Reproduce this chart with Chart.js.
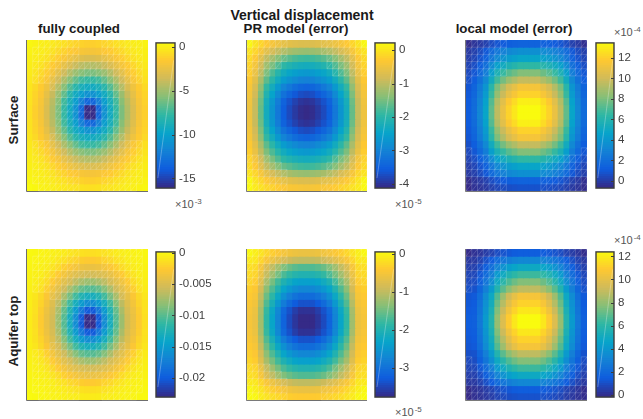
<!DOCTYPE html>
<html>
<head>
<meta charset="utf-8">
<title>Vertical displacement</title>
<script src="https://cdn.jsdelivr.net/npm/chart.js@4/dist/chart.umd.min.js"></script>
<style>
  html, body { margin: 0; padding: 0; background: #fff; }
  #page { position: relative; width: 643px; height: 419px; overflow: hidden; font-family: "Liberation Sans", Arial, sans-serif; }
  canvas { position: absolute; }
  .label { position: absolute; font-weight: bold; font-size: 13.3px; line-height: 14px; color: #1a1a1a; white-space: nowrap; transform: translateX(-50%); }
  .main { font-size: 14px; }
  .side { position: absolute; font-weight: bold; font-size: 13.3px; line-height: 14px; color: #222; white-space: nowrap; transform: translate(-50%, -50%) rotate(-90deg); }
  .exp { position: absolute; font-size: 11px; line-height: 12px; color: #555; white-space: nowrap; }
  .exp sup { font-size: 8px; position: relative; top: -2px; vertical-align: top; margin-left: 1px; }
</style>
</head>
<body>
<div id="page">
  <div class="label main" style="left:302px;top:8px">Vertical displacement</div>
  <div class="label" style="left:296px;top:22px">PR model (error)</div>
  <div class="label" style="left:79px;top:22px">fully coupled</div>
  <div class="label" style="left:514px;top:22px">local model (error)</div>
  <div class="side" style="left:14px;top:120px">Surface</div>
  <div class="side" style="left:14px;top:331px">Aquifer top</div>
  <div class="exp" style="left:175px;top:198px">×10<sup>-3</sup></div>
  <div class="exp" style="left:395px;top:198px">×10<sup>-5</sup></div>
  <div class="exp" style="left:614px;top:26px">×10<sup>-4</sup></div>
  <div class="exp" style="left:395px;top:406px">×10<sup>-5</sup></div>
  <div class="exp" style="left:614px;top:234px">×10<sup>-4</sup></div>
</div>
<script>
// cell values, one row per line, top row first

// fully coupled, surface (x 1e-3)
const coupledSurface = [
  [.3,.15,0,-.1,-.25,-.45,-.6,-.9,-1.1,-1.2,-1.3,-1.3,-1.2,-1.1,-.9,-.6,-.45,-.25,-.1,0,.15],
  [.15,0,-.1,-.3,-.55,-.9,-1.2,-1.5,-1.7,-1.9,-2,-2,-1.9,-1.7,-1.5,-1.2,-.9,-.55,-.3,-.1,0],
  [.05,-.1,-.3,-.55,-1,-1.4,-1.8,-2.3,-2.7,-3,-3.2,-3.2,-3,-2.7,-2.3,-1.8,-1.4,-1,-.55,-.3,-.1],
  [-.05,-.25,-.55,-1,-1.5,-2,-2.7,-3.3,-3.9,-4.3,-4.5,-4.5,-4.3,-3.9,-3.3,-2.7,-2,-1.5,-1,-.55,-.25],
  [-.15,-.45,-.9,-1.4,-2,-2.9,-3.7,-4.5,-5.2,-5.7,-6,-6,-5.7,-5.2,-4.5,-3.7,-2.9,-2,-1.4,-.9,-.45],
  [-.3,-.6,-1.2,-1.8,-2.7,-3.7,-4.7,-5.7,-6.6,-7.4,-7.7,-7.7,-7.4,-6.6,-5.7,-4.7,-3.7,-2.7,-1.8,-1.2,-.6],
  [-.4,-.9,-1.5,-2.3,-3.3,-4.5,-5.7,-7,-8.1,-8.9,-9.3,-9.3,-8.9,-8.1,-7,-5.7,-4.5,-3.3,-2.3,-1.5,-.9],
  [-.5,-1.1,-1.7,-2.7,-3.9,-5.2,-6.6,-8.1,-9.3,-10.3,-11,-11,-10.3,-9.3,-8.1,-6.6,-5.2,-3.9,-2.7,-1.7,-1.1],
  [-.55,-1.2,-1.9,-3,-4.3,-5.7,-7.4,-8.9,-10.3,-12,-13.4,-13.4,-12,-10.3,-8.9,-7.4,-5.7,-4.3,-3,-1.9,-1.2],
  [-.6,-1.3,-2,-3.2,-4.5,-6,-7.7,-9.3,-11,-13.4,-16.1,-16.1,-13.4,-11,-9.3,-7.7,-6,-4.5,-3.2,-2,-1.3],
  [-.6,-1.3,-2,-3.2,-4.5,-6,-7.7,-9.3,-11,-13.4,-16.1,-16.1,-13.4,-11,-9.3,-7.7,-6,-4.5,-3.2,-2,-1.3],
  [-.55,-1.2,-1.9,-3,-4.3,-5.7,-7.4,-8.9,-10.3,-12,-13.4,-13.4,-12,-10.3,-8.9,-7.4,-5.7,-4.3,-3,-1.9,-1.2],
  [-.5,-1.1,-1.7,-2.7,-3.9,-5.2,-6.6,-8.1,-9.3,-10.3,-11,-11,-10.3,-9.3,-8.1,-6.6,-5.2,-3.9,-2.7,-1.7,-1.1],
  [-.4,-.9,-1.5,-2.3,-3.3,-4.5,-5.7,-7,-8.1,-8.9,-9.3,-9.3,-8.9,-8.1,-7,-5.7,-4.5,-3.3,-2.3,-1.5,-.9],
  [-.3,-.6,-1.2,-1.8,-2.7,-3.7,-4.7,-5.7,-6.6,-7.4,-7.7,-7.7,-7.4,-6.6,-5.7,-4.7,-3.7,-2.7,-1.8,-1.2,-.6],
  [-.15,-.45,-.9,-1.4,-2,-2.9,-3.7,-4.5,-5.2,-5.7,-6,-6,-5.7,-5.2,-4.5,-3.7,-2.9,-2,-1.4,-.9,-.45],
  [-.05,-.25,-.55,-1,-1.5,-2,-2.7,-3.3,-3.9,-4.3,-4.5,-4.5,-4.3,-3.9,-3.3,-2.7,-2,-1.5,-1,-.55,-.25],
  [.05,-.1,-.3,-.55,-1,-1.4,-1.8,-2.3,-2.7,-3,-3.2,-3.2,-3,-2.7,-2.3,-1.8,-1.4,-1,-.55,-.3,-.1],
  [.15,0,-.1,-.3,-.55,-.9,-1.2,-1.5,-1.7,-1.9,-2,-2,-1.9,-1.7,-1.5,-1.2,-.9,-.55,-.3,-.1,0],
  [.3,.15,0,-.1,-.25,-.45,-.6,-.9,-1.1,-1.2,-1.3,-1.3,-1.2,-1.1,-.9,-.6,-.45,-.25,-.1,0,.15],
  [.48,.3,.15,.05,-.05,-.15,-.3,-.4,-.5,-.55,-.6,-.6,-.55,-.5,-.4,-.3,-.15,-.05,.05,.15,.3],
];

// PR model error, surface (x 1e-5)
const prSurface = [
  [.18,-.04,-.18,-.34,-.43,-.53,-.62,-.66,-.7,-.73,-.74,-.73,-.7,-.66,-.62,-.53,-.43,-.34,-.18,-.04,.18],
  [-.04,-.19,-.42,-.66,-.81,-.97,-1.1,-1.18,-1.24,-1.28,-1.3,-1.28,-1.24,-1.18,-1.1,-.97,-.81,-.66,-.42,-.19,-.04],
  [-.14,-.34,-.66,-.99,-1.2,-1.41,-1.6,-1.7,-1.79,-1.85,-1.87,-1.85,-1.79,-1.7,-1.6,-1.41,-1.2,-.99,-.66,-.34,-.14],
  [-.21,-.46,-.84,-1.24,-1.49,-1.75,-1.97,-2.1,-2.2,-2.27,-2.3,-2.27,-2.2,-2.1,-1.97,-1.75,-1.49,-1.24,-.84,-.46,-.21],
  [-.27,-.57,-1,-1.47,-1.76,-2.05,-2.31,-2.46,-2.57,-2.66,-2.69,-2.66,-2.57,-2.46,-2.31,-2.05,-1.76,-1.47,-1,-.57,-.27],
  [-.33,-.66,-1.15,-1.67,-2,-2.32,-2.62,-2.78,-2.91,-3.01,-3.04,-3.01,-2.91,-2.78,-2.62,-2.32,-2,-1.67,-1.15,-.66,-.33],
  [-.41,-.78,-1.33,-1.93,-2.3,-2.67,-3,-3.18,-3.33,-3.44,-3.48,-3.44,-3.33,-3.18,-3,-2.67,-2.3,-1.93,-1.33,-.78,-.41],
  [-.46,-.86,-1.46,-2.1,-2.5,-2.9,-3.26,-3.46,-3.62,-3.74,-3.78,-3.74,-3.62,-3.46,-3.26,-2.9,-2.5,-2.1,-1.46,-.86,-.46],
  [-.5,-.93,-1.57,-2.25,-2.68,-3.1,-3.49,-3.7,-3.87,-4,-4.04,-4,-3.87,-3.7,-3.49,-3.1,-2.68,-2.25,-1.57,-.93,-.5],
  [-.52,-.95,-1.61,-2.3,-2.74,-3.17,-3.56,-3.78,-3.96,-4.09,-4.13,-4.09,-3.96,-3.78,-3.56,-3.17,-2.74,-2.3,-1.61,-.95,-.52],
  [-.52,-.95,-1.61,-2.3,-2.74,-3.17,-3.56,-3.78,-3.96,-4.09,-4.13,-4.09,-3.96,-3.78,-3.56,-3.17,-2.74,-2.3,-1.61,-.95,-.52],
  [-.5,-.93,-1.57,-2.25,-2.68,-3.1,-3.49,-3.7,-3.87,-4,-4.04,-4,-3.87,-3.7,-3.49,-3.1,-2.68,-2.25,-1.57,-.93,-.5],
  [-.46,-.86,-1.46,-2.1,-2.5,-2.9,-3.26,-3.46,-3.62,-3.74,-3.78,-3.74,-3.62,-3.46,-3.26,-2.9,-2.5,-2.1,-1.46,-.86,-.46],
  [-.41,-.78,-1.33,-1.93,-2.3,-2.67,-3,-3.18,-3.33,-3.44,-3.48,-3.44,-3.33,-3.18,-3,-2.67,-2.3,-1.93,-1.33,-.78,-.41],
  [-.33,-.66,-1.15,-1.67,-2,-2.32,-2.62,-2.78,-2.91,-3.01,-3.04,-3.01,-2.91,-2.78,-2.62,-2.32,-2,-1.67,-1.15,-.66,-.33],
  [-.27,-.57,-1,-1.47,-1.76,-2.05,-2.31,-2.46,-2.57,-2.66,-2.69,-2.66,-2.57,-2.46,-2.31,-2.05,-1.76,-1.47,-1,-.57,-.27],
  [-.21,-.46,-.84,-1.24,-1.49,-1.75,-1.97,-2.1,-2.2,-2.27,-2.3,-2.27,-2.2,-2.1,-1.97,-1.75,-1.49,-1.24,-.84,-.46,-.21],
  [-.14,-.34,-.66,-.99,-1.2,-1.41,-1.6,-1.7,-1.79,-1.85,-1.87,-1.85,-1.79,-1.7,-1.6,-1.41,-1.2,-.99,-.66,-.34,-.14],
  [-.04,-.19,-.42,-.66,-.81,-.97,-1.1,-1.18,-1.24,-1.28,-1.3,-1.28,-1.24,-1.18,-1.1,-.97,-.81,-.66,-.42,-.19,-.04],
  [.18,-.04,-.18,-.34,-.43,-.53,-.62,-.66,-.7,-.73,-.74,-.73,-.7,-.66,-.62,-.53,-.43,-.34,-.18,-.04,.18],
  [.2,.04,-.05,-.16,-.22,-.29,-.35,-.38,-.4,-.42,-.43,-.42,-.4,-.38,-.35,-.29,-.22,-.16,-.05,.04,.2],
];

// local model error, surface (x 1e-4)
const localSurface = [
  [-.6,-.31,-.12,.12,.52,.84,1.05,1.22,1.32,1.43,1.43,1.43,1.43,1.32,1.22,1.05,.84,.52,.12,-.12,-.5],
  [-.14,.08,.46,.93,1.73,2.37,2.8,3.14,3.35,3.56,3.56,3.56,3.56,3.35,3.14,2.8,2.37,1.73,.93,.46,.08],
  [.01,.28,.76,1.35,2.38,3.18,3.72,4.15,4.42,4.69,4.69,4.69,4.69,4.42,4.15,3.72,3.18,2.38,1.35,.76,.28],
  [.23,.58,1.22,2,3.35,4.41,5.12,5.68,6.04,6.39,6.39,6.39,6.39,6.04,5.68,5.12,4.41,3.35,2,1.22,.58],
  [.45,.89,1.68,2.64,4.31,5.62,6.5,7.2,7.64,8.08,8.08,8.08,8.08,7.64,7.2,6.5,5.62,4.31,2.64,1.68,.89],
  [.65,1.17,2.1,3.24,5.2,6.75,7.78,8.61,9.12,9.64,9.64,9.64,9.64,9.12,8.61,7.78,6.75,5.2,3.24,2.1,1.17],
  [.87,1.48,2.56,3.88,6.17,7.97,9.17,10.14,10.74,11.34,11.34,11.34,11.34,10.74,10.14,9.17,7.97,6.17,3.88,2.56,1.48],
  [.97,1.6,2.75,4.15,6.57,8.48,9.76,10.78,11.41,12.05,12.05,12.05,12.05,11.41,10.78,9.76,8.48,6.57,4.15,2.75,1.6],
  [1.09,1.78,3.02,4.53,7.14,9.2,10.57,11.67,12.35,13.04,13.04,13.04,13.04,12.35,11.67,10.57,9.2,7.14,4.53,3.02,1.78],
  [1.15,1.86,3.13,4.69,7.38,9.5,10.91,12.05,12.75,13.46,13.46,13.46,13.46,12.75,12.05,10.91,9.5,7.38,4.69,3.13,1.86],
  [1.15,1.86,3.13,4.69,7.38,9.5,10.91,12.05,12.75,13.46,13.46,13.46,13.46,12.75,12.05,10.91,9.5,7.38,4.69,3.13,1.86],
  [1.09,1.78,3.02,4.53,7.14,9.2,10.57,11.67,12.35,13.04,13.04,13.04,13.04,12.35,11.67,10.57,9.2,7.14,4.53,3.02,1.78],
  [.97,1.6,2.75,4.15,6.57,8.48,9.76,10.78,11.41,12.05,12.05,12.05,12.05,11.41,10.78,9.76,8.48,6.57,4.15,2.75,1.6],
  [.87,1.48,2.56,3.88,6.17,7.97,9.17,10.14,10.74,11.34,11.34,11.34,11.34,10.74,10.14,9.17,7.97,6.17,3.88,2.56,1.48],
  [.65,1.17,2.1,3.24,5.2,6.75,7.78,8.61,9.12,9.64,9.64,9.64,9.64,9.12,8.61,7.78,6.75,5.2,3.24,2.1,1.17],
  [.45,.89,1.68,2.64,4.31,5.62,6.5,7.2,7.64,8.08,8.08,8.08,8.08,7.64,7.2,6.5,5.62,4.31,2.64,1.68,.89],
  [.23,.58,1.22,2,3.35,4.41,5.12,5.68,6.04,6.39,6.39,6.39,6.39,6.04,5.68,5.12,4.41,3.35,2,1.22,.58],
  [.01,.28,.76,1.35,2.38,3.18,3.72,4.15,4.42,4.69,4.69,4.69,4.69,4.42,4.15,3.72,3.18,2.38,1.35,.76,.28],
  [-.14,.08,.46,.93,1.73,2.37,2.8,3.14,3.35,3.56,3.56,3.56,3.56,3.35,3.14,2.8,2.37,1.73,.93,.46,.08],
  [-.6,-.31,-.12,.12,.52,.84,1.05,1.22,1.32,1.43,1.43,1.43,1.43,1.32,1.22,1.05,.84,.52,.12,-.12,-.5],
  [-.69,-.43,-.31,-.15,.12,.33,.47,.59,.66,.73,.73,.73,.73,.66,.59,.47,.33,.12,-.15,-.31,-.6],
];

// fully coupled, aquifer top (x 1e-3)
const coupledAquifer = [
  [.1,-.05,-.15,-.3,-.4,-.55,-.7,-1,-1.2,-1.3,-1.4,-1.4,-1.3,-1.2,-1,-.7,-.55,-.4,-.3,-.15,-.05],
  [-.05,-.15,-.3,-.45,-.6,-1,-1.3,-1.8,-2.1,-2.4,-2.6,-2.6,-2.4,-2.1,-1.8,-1.3,-1,-.6,-.45,-.3,-.15],
  [-.15,-.3,-.45,-.65,-1.1,-1.6,-2.3,-2.9,-3.4,-3.8,-4,-4,-3.8,-3.4,-2.9,-2.3,-1.6,-1.1,-.65,-.45,-.3],
  [-.25,-.4,-.6,-1.1,-1.8,-2.6,-3.4,-4.2,-4.8,-5.2,-5.4,-5.4,-5.2,-4.8,-4.2,-3.4,-2.6,-1.8,-1.1,-.6,-.4],
  [-.3,-.55,-1,-1.6,-2.6,-3.6,-4.6,-5.4,-6.4,-7.2,-7.7,-7.7,-7.2,-6.4,-5.4,-4.6,-3.6,-2.6,-1.6,-1,-.55],
  [-.45,-.7,-1.3,-2.3,-3.4,-4.6,-5.7,-7.2,-8.6,-9.7,-10.2,-10.2,-9.7,-8.6,-7.2,-5.7,-4.6,-3.4,-2.3,-1.3,-.7],
  [-.55,-1,-1.8,-2.9,-4.2,-5.4,-7.2,-9.1,-10.9,-12.4,-13.2,-13.2,-12.4,-10.9,-9.1,-7.2,-5.4,-4.2,-2.9,-1.8,-1],
  [-.6,-1.2,-2.1,-3.4,-4.8,-6.4,-8.6,-10.9,-13.2,-15.2,-16.4,-16.4,-15.2,-13.2,-10.9,-8.6,-6.4,-4.8,-3.4,-2.1,-1.2],
  [-.65,-1.3,-2.4,-3.8,-5.2,-7.2,-9.7,-12.4,-15.2,-18,-20.3,-20.3,-18,-15.2,-12.4,-9.7,-7.2,-5.2,-3.8,-2.4,-1.3],
  [-.7,-1.4,-2.6,-4,-5.4,-7.7,-10.2,-13.2,-16.4,-20.3,-23.1,-23.1,-20.3,-16.4,-13.2,-10.2,-7.7,-5.4,-4,-2.6,-1.4],
  [-.7,-1.4,-2.6,-4,-5.4,-7.7,-10.2,-13.2,-16.4,-20.3,-23.1,-23.1,-20.3,-16.4,-13.2,-10.2,-7.7,-5.4,-4,-2.6,-1.4],
  [-.65,-1.3,-2.4,-3.8,-5.2,-7.2,-9.7,-12.4,-15.2,-18,-20.3,-20.3,-18,-15.2,-12.4,-9.7,-7.2,-5.2,-3.8,-2.4,-1.3],
  [-.6,-1.2,-2.1,-3.4,-4.8,-6.4,-8.6,-10.9,-13.2,-15.2,-16.4,-16.4,-15.2,-13.2,-10.9,-8.6,-6.4,-4.8,-3.4,-2.1,-1.2],
  [-.55,-1,-1.8,-2.9,-4.2,-5.4,-7.2,-9.1,-10.9,-12.4,-13.2,-13.2,-12.4,-10.9,-9.1,-7.2,-5.4,-4.2,-2.9,-1.8,-1],
  [-.45,-.7,-1.3,-2.3,-3.4,-4.6,-5.7,-7.2,-8.6,-9.7,-10.2,-10.2,-9.7,-8.6,-7.2,-5.7,-4.6,-3.4,-2.3,-1.3,-.7],
  [-.3,-.55,-1,-1.6,-2.6,-3.6,-4.6,-5.4,-6.4,-7.2,-7.7,-7.7,-7.2,-6.4,-5.4,-4.6,-3.6,-2.6,-1.6,-1,-.55],
  [-.25,-.4,-.6,-1.1,-1.8,-2.6,-3.4,-4.2,-4.8,-5.2,-5.4,-5.4,-5.2,-4.8,-4.2,-3.4,-2.6,-1.8,-1.1,-.6,-.4],
  [-.15,-.3,-.45,-.65,-1.1,-1.6,-2.3,-2.9,-3.4,-3.8,-4,-4,-3.8,-3.4,-2.9,-2.3,-1.6,-1.1,-.65,-.45,-.3],
  [-.05,-.15,-.3,-.45,-.6,-1,-1.3,-1.8,-2.1,-2.4,-2.6,-2.6,-2.4,-2.1,-1.8,-1.3,-1,-.6,-.45,-.3,-.15],
  [.1,-.05,-.15,-.3,-.4,-.55,-.7,-1,-1.2,-1.3,-1.4,-1.4,-1.3,-1.2,-1,-.7,-.55,-.4,-.3,-.15,-.05],
  [.2,.1,-.05,-.15,-.25,-.3,-.45,-.55,-.6,-.65,-.7,-.7,-.65,-.6,-.55,-.45,-.3,-.25,-.15,-.05,.1],
];

// PR model error, aquifer top (x 1e-5)
const prAquifer = [
  [.03,-.06,-.17,-.29,-.37,-.45,-.53,-.57,-.61,-.63,-.63,-.63,-.61,-.57,-.53,-.45,-.37,-.29,-.17,-.06,.03],
  [-.1,-.13,-.3,-.48,-.61,-.74,-.86,-.93,-.99,-1.02,-1.02,-1.02,-.99,-.93,-.86,-.74,-.61,-.48,-.3,-.13,-.1],
  [-.2,-.25,-.51,-.81,-1.01,-1.22,-1.41,-1.53,-1.62,-1.67,-1.67,-1.67,-1.62,-1.53,-1.41,-1.22,-1.01,-.81,-.51,-.25,-.2],
  [-.25,-.31,-.62,-.98,-1.22,-1.47,-1.7,-1.84,-1.95,-2.01,-2.01,-2.01,-1.95,-1.84,-1.7,-1.47,-1.22,-.98,-.62,-.31,-.25],
  [-.31,-.38,-.75,-1.17,-1.47,-1.76,-2.03,-2.2,-2.33,-2.4,-2.4,-2.4,-2.33,-2.2,-2.03,-1.76,-1.47,-1.17,-.75,-.38,-.31],
  [-.36,-.44,-.86,-1.34,-1.68,-2.01,-2.32,-2.52,-2.66,-2.74,-2.74,-2.74,-2.66,-2.52,-2.32,-2.01,-1.68,-1.34,-.86,-.44,-.36],
  [-.41,-.51,-.98,-1.52,-1.89,-2.27,-2.62,-2.84,-3,-3.09,-3.09,-3.09,-3,-2.84,-2.62,-2.27,-1.89,-1.52,-.98,-.51,-.41],
  [-.46,-.56,-1.08,-1.67,-2.09,-2.5,-2.88,-3.12,-3.3,-3.4,-3.4,-3.4,-3.3,-3.12,-2.88,-2.5,-2.09,-1.67,-1.08,-.56,-.46],
  [-.5,-.62,-1.18,-1.82,-2.27,-2.72,-3.14,-3.4,-3.59,-3.7,-3.7,-3.7,-3.59,-3.4,-3.14,-2.72,-2.27,-1.82,-1.18,-.62,-.5],
  [-.52,-.63,-1.21,-1.86,-2.32,-2.78,-3.2,-3.47,-3.66,-3.78,-3.78,-3.78,-3.66,-3.47,-3.2,-2.78,-2.32,-1.86,-1.21,-.63,-.52],
  [-.52,-.63,-1.21,-1.86,-2.32,-2.78,-3.2,-3.47,-3.66,-3.78,-3.78,-3.78,-3.66,-3.47,-3.2,-2.78,-2.32,-1.86,-1.21,-.63,-.52],
  [-.5,-.62,-1.18,-1.82,-2.27,-2.72,-3.14,-3.4,-3.59,-3.7,-3.7,-3.7,-3.59,-3.4,-3.14,-2.72,-2.27,-1.82,-1.18,-.62,-.5],
  [-.46,-.56,-1.08,-1.67,-2.09,-2.5,-2.88,-3.12,-3.3,-3.4,-3.4,-3.4,-3.3,-3.12,-2.88,-2.5,-2.09,-1.67,-1.08,-.56,-.46],
  [-.41,-.51,-.98,-1.52,-1.89,-2.27,-2.62,-2.84,-3,-3.09,-3.09,-3.09,-3,-2.84,-2.62,-2.27,-1.89,-1.52,-.98,-.51,-.41],
  [-.36,-.44,-.86,-1.34,-1.68,-2.01,-2.32,-2.52,-2.66,-2.74,-2.74,-2.74,-2.66,-2.52,-2.32,-2.01,-1.68,-1.34,-.86,-.44,-.36],
  [-.31,-.38,-.75,-1.17,-1.47,-1.76,-2.03,-2.2,-2.33,-2.4,-2.4,-2.4,-2.33,-2.2,-2.03,-1.76,-1.47,-1.17,-.75,-.38,-.31],
  [-.25,-.31,-.62,-.98,-1.22,-1.47,-1.7,-1.84,-1.95,-2.01,-2.01,-2.01,-1.95,-1.84,-1.7,-1.47,-1.22,-.98,-.62,-.31,-.25],
  [-.2,-.25,-.51,-.81,-1.01,-1.22,-1.41,-1.53,-1.62,-1.67,-1.67,-1.67,-1.62,-1.53,-1.41,-1.22,-1.01,-.81,-.51,-.25,-.2],
  [-.1,-.13,-.3,-.48,-.61,-.74,-.86,-.93,-.99,-1.02,-1.02,-1.02,-.99,-.93,-.86,-.74,-.61,-.48,-.3,-.13,-.1],
  [.03,-.06,-.17,-.29,-.37,-.45,-.53,-.57,-.61,-.63,-.63,-.63,-.61,-.57,-.53,-.45,-.37,-.29,-.17,-.06,.03],
  [.06,.02,-.09,-.17,-.23,-.28,-.33,-.36,-.39,-.4,-.4,-.4,-.39,-.36,-.33,-.28,-.23,-.17,-.09,.02,.06],
];

// local model error, aquifer top (x 1e-4)
const localAquifer = [
  [-.15,.04,.17,.37,.58,.88,1.09,1.25,1.37,1.45,1.45,1.45,1.45,1.37,1.25,1.09,.88,.58,.37,.17,-.1],
  [.25,.29,.56,.97,1.41,2.02,2.46,2.8,3.04,3.21,3.21,3.21,3.21,3.04,2.8,2.46,2.02,1.41,.97,.56,.29],
  [.46,.51,.92,1.52,2.17,3.08,3.73,4.24,4.59,4.84,4.84,4.84,4.84,4.59,4.24,3.73,3.08,2.17,1.52,.92,.51],
  [.66,.73,1.25,2.03,2.88,4.06,4.91,5.57,6.02,6.35,6.35,6.35,6.35,6.02,5.57,4.91,4.06,2.88,2.03,1.25,.73],
  [.82,.9,1.53,2.46,3.48,4.88,5.89,6.67,7.22,7.61,7.61,7.61,7.61,7.22,6.67,5.89,4.88,3.48,2.46,1.53,.9],
  [.99,1.08,1.8,2.89,4.07,5.7,6.88,7.78,8.42,8.87,8.87,8.87,8.87,8.42,7.78,6.88,5.7,4.07,2.89,1.8,1.08],
  [1.2,1.31,2.16,3.44,4.83,6.76,8.15,9.22,9.97,10.5,10.5,10.5,10.5,9.97,9.22,8.15,6.76,4.83,3.44,2.16,1.31],
  [1.28,1.39,2.3,3.66,5.13,7.17,8.64,9.77,10.56,11.13,11.13,11.13,11.13,10.56,9.77,8.64,7.17,5.13,3.66,2.3,1.39],
  [1.36,1.48,2.44,3.87,5.43,7.58,9.13,10.33,11.16,11.76,11.76,11.76,11.76,11.16,10.33,9.13,7.58,5.43,3.87,2.44,1.48],
  [1.45,1.57,2.58,4.09,5.72,7.99,9.62,10.88,11.76,12.39,12.39,12.39,12.39,11.76,10.88,9.62,7.99,5.72,4.09,2.58,1.57],
  [1.45,1.57,2.58,4.09,5.72,7.99,9.62,10.88,11.76,12.39,12.39,12.39,12.39,11.76,10.88,9.62,7.99,5.72,4.09,2.58,1.57],
  [1.36,1.48,2.44,3.87,5.43,7.58,9.13,10.33,11.16,11.76,11.76,11.76,11.76,11.16,10.33,9.13,7.58,5.43,3.87,2.44,1.48],
  [1.28,1.39,2.3,3.66,5.13,7.17,8.64,9.77,10.56,11.13,11.13,11.13,11.13,10.56,9.77,8.64,7.17,5.13,3.66,2.3,1.39],
  [1.2,1.31,2.16,3.44,4.83,6.76,8.15,9.22,9.97,10.5,10.5,10.5,10.5,9.97,9.22,8.15,6.76,4.83,3.44,2.16,1.31],
  [.99,1.08,1.8,2.89,4.07,5.7,6.88,7.78,8.42,8.87,8.87,8.87,8.87,8.42,7.78,6.88,5.7,4.07,2.89,1.8,1.08],
  [.82,.9,1.53,2.46,3.48,4.88,5.89,6.67,7.22,7.61,7.61,7.61,7.61,7.22,6.67,5.89,4.88,3.48,2.46,1.53,.9],
  [.66,.73,1.25,2.03,2.88,4.06,4.91,5.57,6.02,6.35,6.35,6.35,6.35,6.02,5.57,4.91,4.06,2.88,2.03,1.25,.73],
  [.46,.51,.92,1.52,2.17,3.08,3.73,4.24,4.59,4.84,4.84,4.84,4.84,4.59,4.24,3.73,3.08,2.17,1.52,.92,.51],
  [.25,.29,.56,.97,1.41,2.02,2.46,2.8,3.04,3.21,3.21,3.21,3.21,3.04,2.8,2.46,2.02,1.41,.97,.56,.29],
  [-.15,.04,.17,.37,.58,.88,1.09,1.25,1.37,1.45,1.45,1.45,1.45,1.37,1.25,1.09,.88,.58,.37,.17,-.1],
  [-.19,-.01,.09,.24,.4,.63,.79,.92,1,1.07,1.07,1.07,1.07,1,.92,.79,.63,.4,.24,.09,-.1],
];

// colorbar limits [bottom, top] and ticks
const coupledSurfaceRange = [-16.1, 0.48];
const prSurfaceRange      = [-4.13, 0.22];
const localSurfaceRange   = [-0.69, 13.46];
const coupledAquiferRange = [-23.1, 0.2];
const prAquiferRange      = [-3.78, 0.06];
const localAquiferRange   = [-0.19, 12.39];

const coupledSurfaceTicks = [0, -5, -10, -15];
const prSurfaceTicks      = [0, -1, -2, -3, -4];
const localSurfaceTicks   = [0, 2, 4, 6, 8, 10, 12];
const coupledAquiferTicks = [0, -5, -10, -15, -20];
const coupledAquiferLabels = ['0', '-0.005', '-0.01', '-0.015', '-0.02'];
const prAquiferTicks      = [0, -1, -2, -3];
const localAquiferTicks   = [0, 2, 4, 6, 8, 10, 12];

// which cells have the white FE mesh drawn over them
const coupledMesh = [
  '..xxxxxxx....xxxxxxx.',
  '.xxxxxxxx....xxxxxxx.',
  '.xxxxxxxx....xxxxxxx.',
  '.xxxxxxxxxxxxxxxxxxx.',
  '.xxxxxxxxxxxxxxxxxxx.',
  '.xxxxxxxxxxxxxxxxxxx.',
  '....xxxxxxxxxxxxx....',
  '.....xxxxxxxxxxx.....',
  '.....xxxxxxxxxxx.....',
  '.....xxxxxxxxxxx.....',
  '.....xxxxxxxxxxx.....',
  '.....xxxxxxxxxxx.....',
  '.....xxxxxxxxxxx.....',
  '....xxxxxxxxxxxxx....',
  '.xxxxxxxxxxxxxxxxxxx.',
  '.xxxxxxxxxxxxxxxxxxx.',
  '.xxxxxxxxxxxxxxxxxxx.',
  '.xxxxxxxxxxxxxxxxxxx.',
  '.xxxxxxxx....xxxxxxx.',
  '.xxxxxxxx....xxxxxxx.',
  '..xxxxxxx....xxxxxx..',
];
const prMesh = [
  'xxxxxxx......xxxxxxxx',
  'xxxxxxx......xxxxxxxx',
  'xxxxxxx.......xxxxxxx',
  'xxxxxx........xxxxxxx',
  'xxxx...........xxxxxx',
  '.....................',
  '.....................',
  '.....................',
  '.....................',
  '.....................',
  '.....................',
  '.....................',
  '.....................',
  '.....................',
  '.....................',
  '.....................',
  'xxxx...........xxxxxx',
  'xxxxxx........xxxxxxx',
  'xxxxxxx.......xxxxxxx',
  'xxxxxxx......xxxxxxxx',
  'xxxxxxx......xxxxxxxx',
];
const localMesh = [
  'xxxxxxx......xxxxxxxx',
  'xxxxxxx......xxxxxxxx',
  'xxxxxxx......xxxxxxxx',
  'xxxxxxx......xxxxxxxx',
  'xxxxxxx.......xxxxxxx',
  'x...................x',
  '.....................',
  '.....................',
  '.....................',
  '.....................',
  '.....................',
  '.....................',
  '.....................',
  '.....................',
  '.....................',
  'x...................x',
  'xxxxxxx.......xxxxxxx',
  'xxxxxxx......xxxxxxxx',
  'xxxxxxx......xxxxxxxx',
  'xxxxxxx......xxxxxxxx',
  'xxxxxxx......xxxxxxxx',
];

const parula = ['#352a87', '#0f5cdd', '#1481d6', '#06a4ca', '#2eb7a4', '#87bf77', '#d1bb59', '#fec832', '#f9fb0e'];
const parulaRgb = parula.map(h => [1, 3, 5].map(i => parseInt(h.slice(i, i + 2), 16)));

function colorAt(t) {
  t = Math.min(1, Math.max(0, t)) * (parulaRgb.length - 1);
  const i = Math.min(parulaRgb.length - 2, Math.floor(t));
  const f = t - i;
  const c = parulaRgb[i].map((v, k) => Math.round(v + (parulaRgb[i + 1][k] - v) * f));
  return `rgb(${c[0]},${c[1]},${c[2]})`;
}

const page = document.getElementById('page');

function addCanvas(left, top, width, height) {
  const cv = document.createElement('canvas');
  cv.width = width;
  cv.height = height;
  cv.style.left = left + 'px';
  cv.style.top = top + 'px';
  cv.style.width = width + 'px';
  cv.style.height = height + 'px';
  page.appendChild(cv);
  return cv;
}

// axis lines plus the mesh, placed through the chart's own scales
const meshPlugin = {
  id: 'mesh',
  afterDatasetsDraw(chart, args, opts) {
    const { ctx, chartArea: a, scales: { x, y } } = chart;
    const mesh = opts.cells;
    const on = (r, c) => mesh[r] && mesh[r][c] === 'x';
    ctx.save();
    ctx.strokeStyle = '#6e6e6e';
    ctx.lineWidth = 1;
    ctx.beginPath();
    ctx.moveTo(a.left - 0.5, a.top);
    ctx.lineTo(a.left - 0.5, a.bottom + 0.5);
    ctx.lineTo(a.right, a.bottom + 0.5);
    ctx.stroke();

    ctx.strokeStyle = 'rgba(255,255,255,0.25)';
    ctx.lineWidth = 0.7;
    ctx.beginPath();
    mesh.forEach((row, r) => {
      for (let c = 0; c < row.length; c++) {
        if (!on(r, c)) continue;
        const x0 = x.getPixelForValue(c - 0.5), x1 = x.getPixelForValue(c + 0.5);
        const y0 = y.getPixelForValue(r), y1 = y.getPixelForValue(r + 1);
        ctx.moveTo(x0, y1); ctx.lineTo(x0, y0); ctx.lineTo(x1, y0);
        ctx.moveTo(x0, y1); ctx.lineTo(x1, y0);
        if (!on(r, c + 1)) { ctx.moveTo(x1, y0); ctx.lineTo(x1, y1); }
        if (!on(r + 1, c)) { ctx.moveTo(x0, y1); ctx.lineTo(x1, y1); }
      }
    });
    ctx.stroke();
    ctx.restore();
  }
};

function heatmap(values, range, mesh, left, top, width, height) {
  const cv = addCanvas(left - 1, top, width + 2, height + 1);
  const cols = values[0].map((v, i) => i);
  new Chart(cv, {
    type: 'bar',
    plugins: [meshPlugin],
    data: {
      labels: cols,
      datasets: values.map(row => ({
        data: row.map(() => 1),
        backgroundColor: row.map(v => colorAt((v - range[0]) / (range[1] - range[0]))),
        borderWidth: 0,
        inflateAmount: 0.5,
        barPercentage: 1,
        categoryPercentage: 1,
      }))
    },
    options: {
      responsive: false,
      animation: false,
      layout: { padding: { left: 1, right: 1, top: 0, bottom: 1 } },
      plugins: { legend: { display: false }, tooltip: { enabled: false }, mesh: { cells: mesh } },
      scales: {
        x: { stacked: true, display: false },
        y: { stacked: true, display: false, reverse: true, min: 0, max: values.length }
      }
    }
  });
}

const barFramePlugin = {
  id: 'barFrame',
  afterDraw(chart, args, opts) {
    const { ctx, chartArea: a, scales: { y } } = chart;
    const w = a.right - a.left, h = a.bottom - a.top;
    ctx.save();
    // faint streak that runs up through the colorbar
    ctx.strokeStyle = 'rgba(255,255,255,0.4)';
    ctx.lineWidth = 0.7;
    ctx.beginPath();
    ctx.moveTo(a.left + w * 0.1, a.top + h * 0.93);
    ctx.lineTo(a.left + w * 0.93, a.top + h * 0.12);
    ctx.stroke();
    ctx.strokeStyle = '#3c3c3c';
    ctx.lineWidth = 1;
    ctx.beginPath();
    opts.ticks.forEach(v => {
      const py = Math.round(y.getPixelForValue(v)) + 0.5;
      ctx.moveTo(a.right, py);
      ctx.lineTo(a.right - 3, py);
    });
    ctx.stroke();
    ctx.lineWidth = 1.4;
    ctx.strokeRect(a.left, a.top, w, h);
    ctx.restore();
  }
};

function colorbar(range, ticks, labels, left, top, width, height) {
  const levels = 64;
  const pad = 8, axisW = 44;
  const cv = addCanvas(left - 1, top - pad, width + axisW + 1, height + pad * 2);
  const step = (range[1] - range[0]) / levels;
  const datasets = [];
  for (let i = 0; i < levels; i++) {
    datasets.push({
      data: [[range[0] + i * step, range[0] + (i + 1) * step]],
      backgroundColor: colorAt((i + 0.5) / levels),
      borderWidth: 0,
      inflateAmount: 0.5,
      grouped: false,
      barPercentage: 1,
      categoryPercentage: 1,
    });
  }
  new Chart(cv, {
    type: 'bar',
    plugins: [barFramePlugin],
    data: { labels: [''], datasets },
    options: {
      responsive: false,
      animation: false,
      layout: { padding: { left: 1, right: 0, top: pad, bottom: pad } },
      plugins: { legend: { display: false }, tooltip: { enabled: false }, barFrame: { ticks } },
      scales: {
        x: { display: false },
        y: {
          position: 'right',
          min: range[0],
          max: range[1],
          afterFit(s) { s.width = axisW; },
          afterBuildTicks(s) { s.ticks = ticks.map(v => ({ value: v })); },
          grid: { display: false, drawTicks: false },
          border: { display: false },
          ticks: {
            autoSkip: false,
            padding: 4,
            color: '#404040',
            font: { family: '"Liberation Sans", Arial, sans-serif', size: 11.5 },
            callback: (v, i) => labels ? labels[i] : String(v)
          }
        }
      }
    }
  });
}

heatmap(coupledSurface, coupledSurfaceRange, coupledMesh, 27, 40, 121, 151);
colorbar(coupledSurfaceRange, coupledSurfaceTicks, null, 156, 40, 19, 151);
heatmap(prSurface, prSurfaceRange, prMesh, 247, 40, 120, 151);
colorbar(prSurfaceRange, prSurfaceTicks, null, 375, 40, 20, 151);
heatmap(localSurface, localSurfaceRange, localMesh, 466, 40, 121, 151);
colorbar(localSurfaceRange, localSurfaceTicks, null, 596, 40, 18, 151);

heatmap(coupledAquifer, coupledAquiferRange, coupledMesh, 27, 249, 121, 151);
colorbar(coupledAquiferRange, coupledAquiferTicks, coupledAquiferLabels, 156, 249, 19, 151);
heatmap(prAquifer, prAquiferRange, prMesh, 247, 249, 120, 151);
colorbar(prAquiferRange, prAquiferTicks, null, 375, 249, 20, 151);
heatmap(localAquifer, localAquiferRange, localMesh, 466, 249, 121, 151);
colorbar(localAquiferRange, localAquiferTicks, null, 596, 249, 18, 151);
</script>
</body>
</html>
